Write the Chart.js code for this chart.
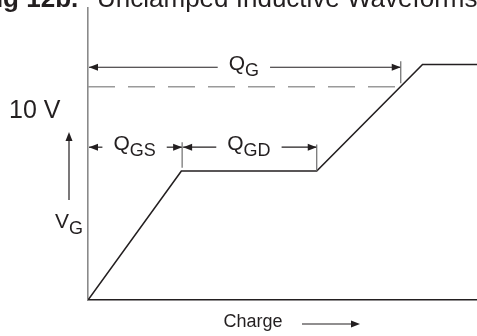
<!DOCTYPE html>
<html>
<head>
<meta charset="utf-8">
<script src="https://cdn.jsdelivr.net/npm/chart.js@4.4.1/dist/chart.umd.min.js"></script>
<style>
  html, body { margin: 0; padding: 0; background: #fff; }
  #wrap { width: 477px; height: 336px; }
</style>
</head>
<body>
<div id="wrap"><canvas id="chart_gate" width="477" height="336"></canvas></div>
<script>
// gate charge waveform (charge in arbitrary units, VG in volts)
var charge = [0, 24.0, 58.8, 86.0, 100];
var vg = [0, 6.05, 6.05, 11.05, 11.05];

// dashed 10 V level, ends where it meets the rising edge
var levelV = 10;
var levelEnd = 80.4;

// Q spans drawn above the curve
var spanSub = ["G", "GS", "GD"];
var spanFrom = [0, 0, 24.2];
var spanTo = [80.4, 24.2, 58.8];
var spanAt = [10.92, 7.17, 7.17];
var tickTop = [11.2, 7.4, 7.3];
var tickBottom = [10.17, 6.2, 6.05];

var chargeMax = 100;
var vgMax = 13.7;

var ink = '#231f20';
var font = '"Liberation Sans", Arial, sans-serif';

const arrowHead = (ctx, x, y, dir) => {
  // dir: 'l', 'r', 'u'
  ctx.beginPath();
  if (dir === 'r') { ctx.moveTo(x, y); ctx.lineTo(x - 9, y - 3.5); ctx.lineTo(x - 9, y + 3.5); }
  if (dir === 'l') { ctx.moveTo(x, y); ctx.lineTo(x + 9, y - 3.5); ctx.lineTo(x + 9, y + 3.5); }
  if (dir === 'u') { ctx.moveTo(x, y); ctx.lineTo(x - 3.5, y + 9); ctx.lineTo(x + 3.5, y + 9); }
  ctx.closePath();
  ctx.fill();
};

const line = (ctx, x1, y1, x2, y2) => {
  ctx.beginPath();
  ctx.moveTo(x1, y1);
  ctx.lineTo(x2, y2);
  ctx.stroke();
};

// "Q" + subscript, returns [left, right] of the text
const subText = (ctx, main, sub, cx, base, big, small) => {
  ctx.font = big + 'px ' + font;
  var w1 = ctx.measureText(main).width;
  ctx.font = small + 'px ' + font;
  var w2 = ctx.measureText(sub).width;
  var x0 = cx - (w1 + w2) / 2;
  ctx.textAlign = 'left';
  ctx.textBaseline = 'alphabetic';
  ctx.font = big + 'px ' + font;
  ctx.fillText(main, x0, base);
  ctx.font = small + 'px ' + font;
  ctx.fillText(sub, x0 + w1, base + 6);
  return [x0, x0 + w1 + w2];
};

const gateNotes = {
  id: 'gateNotes',
  afterDraw(chart) {
    const ctx = chart.ctx;
    const a = chart.chartArea;
    const xs = chart.scales.x, ys = chart.scales.y;
    ctx.save();
    ctx.fillStyle = ink;
    ctx.strokeStyle = ink;
    ctx.lineWidth = 1.2;

    // title (cut off at the top in the original)
    ctx.textBaseline = 'alphabetic';
    ctx.textAlign = 'left';
    ctx.font = 'bold 26px ' + font;
    ctx.fillText('Fig 12b.', -20, 7);
    ctx.font = '26px ' + font;
    ctx.fillText('Unclamped Inductive Waveforms', 97, 7);

    // spans
    for (var i = 0; i < spanSub.length; i++) {
      var x1 = xs.getPixelForValue(spanFrom[i]) + 1;
      var x2 = xs.getPixelForValue(spanTo[i]);
      var yy = ys.getPixelForValue(spanAt[i]);
      var ext = subText(ctx, 'Q', spanSub[i], (x1 + x2) / 2 - 1, yy + 3, 21, 18);
      ctx.strokeStyle = ink;
      line(ctx, x1, yy, ext[0] - 11, yy);
      line(ctx, ext[1] + 11, yy, x2, yy);
      arrowHead(ctx, x1, yy, 'l');
      arrowHead(ctx, x2, yy, 'r');
      ctx.strokeStyle = '#6d6d6d';
      line(ctx, x2, ys.getPixelForValue(tickTop[i]), x2, ys.getPixelForValue(tickBottom[i]));
    }
    ctx.strokeStyle = ink;

    // 10 V label
    ctx.font = '25px ' + font;
    ctx.textAlign = 'left';
    ctx.fillText('10 V', a.left - 79, 118);

    // VG label with up arrow
    line(ctx, a.left - 19, 200, a.left - 19, 138);
    arrowHead(ctx, a.left - 19, 132, 'u');
    subText(ctx, 'V', 'G', a.left - 19, 228, 21, 18);

    // Charge label with arrow
    ctx.font = '18px ' + font;
    ctx.textAlign = 'center';
    ctx.fillText('Charge', 253, 327);
    line(ctx, 302, 324, 354, 324);
    arrowHead(ctx, 360, 324, 'r');

    ctx.restore();
  }
};

var wave = charge.map((c, i) => ({ x: c, y: vg[i] }));
var level = [{ x: 0, y: levelV }, { x: levelEnd, y: levelV }];

var chart = new Chart(document.getElementById('chart_gate').getContext('2d'), {
  type: 'line',
  data: {
    datasets: [
      {
        data: wave,
        borderColor: ink,
        borderWidth: 1.6,
        pointRadius: 0,
        tension: 0,
        fill: false,
      },
      {
        data: level,
        borderColor: '#9a9a9a',
        borderWidth: 1.5,
        borderDash: [27, 13],
        pointRadius: 0,
        fill: false,
      },
    ],
  },
  options: {
    responsive: false,
    animation: false,
    events: [],
    layout: { padding: { left: 88, top: 8, right: 0, bottom: 36 } },
    plugins: {
      legend: { display: false },
      tooltip: { enabled: false },
    },
    scales: {
      x: {
        type: 'linear',
        min: 0,
        max: chargeMax,
        ticks: { display: false },
        grid: { drawOnChartArea: false, drawTicks: false },
        border: { color: ink, width: 1.6 },
      },
      y: {
        type: 'linear',
        min: 0,
        max: vgMax,
        ticks: { display: false },
        grid: { drawOnChartArea: false, drawTicks: false },
        border: { color: '#8a8a8a', width: 1.6 },
      },
    },
  },
  plugins: [gateNotes],
});
</script>
</body>
</html>
